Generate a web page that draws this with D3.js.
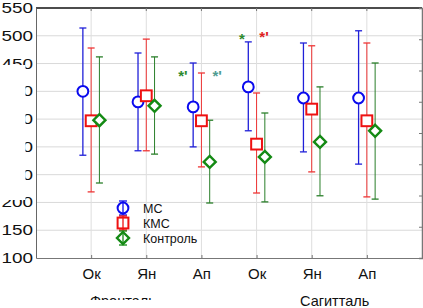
<!DOCTYPE html>
<html>
<head>
<meta charset="utf-8">
<script src="https://cdn.jsdelivr.net/npm/d3@7"></script>
<style>
  body { margin: 0; background: #fff; }
  svg { display: block; font-family: Arial, "Liberation Sans", sans-serif; }
</style>
</head>
<body>
<svg id="plot" width="423" height="308"></svg>
<script>
const months = ['Ок', 'Ян', 'Ап', 'Ок', 'Ян', 'Ап'];
const planes = ['Фронталь', 'Сагитталь'];
const yTicks = [100, 150, 200, 250, 300, 350, 400, 450, 500, 550];

const mcMean = [400, 381, 372, 408, 388, 388];
const mcLow = [285, 293, 300, 329, 291, 269];
const mcHigh = [514, 469, 451, 489, 487, 509];

const kmcMean = [347, 392, 347, 305, 368, 347];
const kmcLow = [219, 293, 264, 217, 255, 210];
const kmcHigh = [478, 494, 433, 397, 482, 487];

const ctrlMean = [348, 374, 273, 282, 309, 329];
const ctrlLow = [235, 287, 199, 201, 212, 206];
const ctrlHigh = [462, 462, 348, 361, 408, 451];

// significance marks: text, category coordinate, value
const starText = ["*'", "*'", "*", "*'"];
const starCat = [2.58, 3.2, 3.68, 4.05];
const starVal = [433, 433, 500, 503];

const series = [
  { name: 'МС', mean: mcMean, low: mcLow, high: mcHigh, shape: 'circle', color: '#0a0aee', bar: '#2020d8', barW: 1.3, dx: -0.15 },
  { name: 'КМС', mean: kmcMean, low: kmcLow, high: kmcHigh, shape: 'square', color: '#ee1111', bar: '#ee3535', barW: 1, dx: 0 },
  { name: 'Контроль', mean: ctrlMean, low: ctrlLow, high: ctrlHigh, shape: 'diamond', color: '#148a14', bar: '#2a7f2a', barW: 1, dx: 0.15 }
];
const starColors = ['#2e8b2e', '#4f9c92', '#2e8b2e', '#e02020'];

const svg = d3.select('#plot');
const plotL = 36, plotR = 422, plotT = 8, plotB = 258;

const x = d3.scaleLinear().domain([0, 7]).range([plotL, plotR]);
const y = d3.scaleLinear().domain([100, 550]).range([plotB, plotT]);
const yRight = d3.scaleLinear().domain([0, 8]).range([plotB, plotT]);
const cats = months.map((d, i) => i + 1);

// grid
svg.append('g')
  .selectAll('line').data(yTicks.slice(1, -1))
  .enter().append('line')
    .attr('x1', plotL).attr('x2', plotR)
    .attr('y1', d => y(d)).attr('y2', d => y(d))
    .attr('stroke', '#d9d9d9').attr('stroke-width', 1);
svg.append('g')
  .selectAll('line').data(cats)
  .enter().append('line')
    .attr('x1', d => x(d)).attr('x2', d => x(d))
    .attr('y1', plotT).attr('y2', plotB)
    .attr('stroke', '#dedede').attr('stroke-width', 1);

// error bars
const capW = 3.5;
series.forEach(s => {
  const g = svg.append('g');
  cats.forEach((c, i) => {
    const cx = x(c + s.dx);
    g.append('line')
      .attr('x1', cx).attr('x2', cx)
      .attr('y1', y(s.low[i])).attr('y2', y(s.high[i]))
      .attr('stroke', s.bar).attr('stroke-width', s.barW);
    [s.low[i], s.high[i]].forEach(v => {
      g.append('line')
        .attr('x1', cx - capW).attr('x2', cx + capW)
        .attr('y1', y(v)).attr('y2', y(v))
        .attr('stroke', s.bar).attr('stroke-width', 1.3);
    });
  });
});

const drawMarker = (g, shape, cx, cy, color, fill) => {
  if (shape === 'circle') {
    g.append('circle').attr('cx', cx).attr('cy', cy).attr('r', 5.4)
      .attr('fill', fill).attr('stroke', color).attr('stroke-width', 2);
  } else if (shape === 'square') {
    g.append('rect').attr('x', cx - 5.4).attr('y', cy - 5.4)
      .attr('width', 10.8).attr('height', 10.8)
      .attr('fill', fill).attr('stroke', color).attr('stroke-width', 2);
  } else {
    const r = 6;
    g.append('path')
      .attr('d', `M${cx},${cy - r}L${cx + r},${cy}L${cx},${cy + r}L${cx - r},${cy}Z`)
      .attr('fill', fill).attr('stroke', color).attr('stroke-width', 2.4);
  }
};

// markers
series.forEach(s => {
  const g = svg.append('g');
  cats.forEach((c, i) => drawMarker(g, s.shape, x(c + s.dx), y(s.mean[i]), s.color, '#fff'));
});

// significance marks
svg.append('g').selectAll('text').data(starText)
  .enter().append('text')
    .attr('x', (d, i) => x(starCat[i]))
    .attr('y', (d, i) => y(starVal[i]) + 8)
    .attr('font-size', 15).attr('font-weight', 'bold')
    .attr('fill', (d, i) => starColors[i])
    .text(d => d);

// frame and axes
svg.append('line').attr('x1', plotL).attr('x2', plotR).attr('y1', plotT).attr('y2', plotT)
  .attr('stroke', '#111').attr('stroke-width', 1.5);

const yAxis = d3.axisLeft(y).tickValues(yTicks).tickSize(0).tickPadding(3);
const yAxisG = svg.append('g').attr('transform', `translate(${plotL},0)`).call(yAxis);
yAxisG.select('.domain').attr('stroke', '#666');
yAxisG.selectAll('text')
  .attr('font-size', 14)
  .attr('fill', '#111')
  .attr('x', -2.2)
  .attr('transform', 'scale(1.35,1)');

const rAxis = d3.axisLeft(yRight).ticks(8).tickSize(3).tickFormat('');
const rAxisG = svg.append('g').attr('transform', `translate(${plotR},0)`).call(rAxis);
rAxisG.select('.domain').attr('stroke', '#777').attr('stroke-width', 1.5);
rAxisG.selectAll('line').attr('stroke', '#777');

const xAxis = d3.axisBottom(x).tickValues(cats).tickSize(0).tickPadding(10)
  .tickFormat((d, i) => months[i]);
const xAxisG = svg.append('g').attr('transform', `translate(0,${plotB})`).call(xAxis);
xAxisG.select('.domain').attr('stroke', '#777');
xAxisG.selectAll('text').attr('font-size', 15).attr('fill', '#111');
xAxisG.selectAll('.tick').append('line')
  .attr('y1', 0).attr('y2', -3).attr('stroke', '#777');

svg.append('g').selectAll('line').data(cats)
  .enter().append('line')
    .attr('x1', d => x(d)).attr('x2', d => x(d))
    .attr('y1', plotT).attr('y2', plotT + 3)
    .attr('stroke', '#777');

// plane labels
svg.append('g').selectAll('text').data(planes)
  .enter().append('text')
    .attr('x', (d, i) => i === 0 ? 90 : 300)
    .attr('y', 306)
    .attr('font-size', 14.5)
    .attr('fill', '#111')
    .text(d => d);

// legend
const legend = svg.append('g').attr('transform', 'translate(123,208)');
series.forEach((s, i) => {
  const row = legend.append('g').attr('transform', `translate(0,${i * 15})`);
  row.append('line').attr('x1', 0).attr('x2', 0).attr('y1', -7).attr('y2', 7)
    .attr('stroke', s.color).attr('stroke-width', 1.3);
  [-7, 7].forEach(v => row.append('line')
    .attr('x1', -4).attr('x2', 4).attr('y1', v).attr('y2', v)
    .attr('stroke', s.color).attr('stroke-width', 1.3));
  drawMarker(row, s.shape, 0, 0, s.color, 'none');
  row.append('text')
    .attr('x', 20).attr('y', 4.5)
    .attr('font-size', 12.5).attr('fill', '#111')
    .text(s.name);
});

// white patches covering parts of the labels, as in the source picture
svg.append('rect').attr('x', 0).attr('y', 65).attr('width', 25.5).attr('height', 135).attr('fill', '#fff');
svg.append('rect').attr('x', 60).attr('y', 300).attr('width', 190).attr('height', 8).attr('fill', '#fff');
</script>
</body>
</html>
